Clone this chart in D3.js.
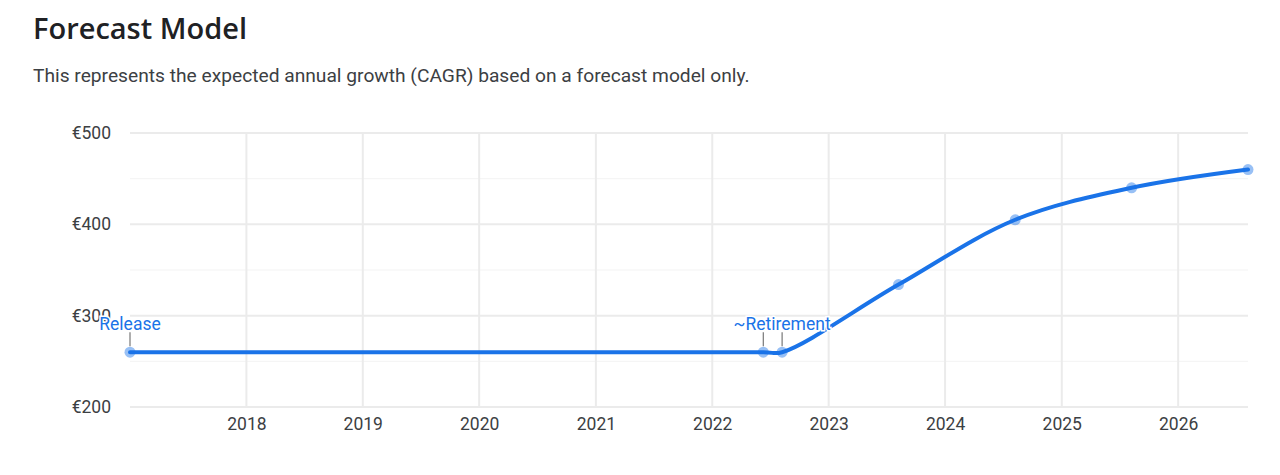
<!DOCTYPE html>
<html>
<head>
<meta charset="utf-8">
<script src="https://cdn.jsdelivr.net/npm/d3@7"></script>
<style>
  body { margin: 0; background: #fff; }
  svg { display: block; }
</style>
</head>
<body>
<svg id="chart" width="1280" height="475"></svg>
<script>
/* global d3: false */

const dates = ['2017-01-01', '2022-06-10', '2022-08-08', '2023-08-08', '2024-08-08', '2025-08-08', '2026-08-08'];
const prices = [260, 260, 260, 334, 405, 440, 460];
const noteDates = ['2017-01-01', '2022-06-10', '2022-08-08'];
const noteLabels = ['Release', '', '~Retirement'];
const yTicks = [200, 300, 400, 500];
const yMinorTicks = [250, 350, 450];
const xTickYears = [2018, 2019, 2020, 2021, 2022, 2023, 2024, 2025, 2026];

const parse = d3.timeParse('%Y-%m-%d');
const points = dates.map((d, i) => ({ date: parse(d), value: prices[i] }));

const svg = d3.select('#chart');
const margin = { left: 130, right: 32, top: 133, bottom: 68 };
const width = 1280;
const height = 475;

svg.append('text')
  .attr('x', 33)
  .attr('y', 39)
  .attr('font-family', 'Open Sans')
  .attr('font-weight', 600)
  .attr('font-size', 29)
  .attr('fill', '#202124')
  .text('Forecast Model');

svg.append('text')
  .attr('x', 33)
  .attr('y', 82)
  .attr('font-family', 'Roboto')
  .attr('font-size', 19.2)
  .attr('fill', '#3c4043')
  .text('This represents the expected annual growth (CAGR) based on a forecast model only.');

const x = d3.scaleTime()
  .domain(d3.extent(points, d => d.date))
  .range([margin.left, width - margin.right]);

const y = d3.scaleLinear()
  .domain([200, 500])
  .range([height - margin.bottom, margin.top]);

// grid
const grid = svg.append('g');
grid.selectAll('.minor')
  .data(yMinorTicks)
  .enter()
  .append('line')
  .attr('x1', margin.left)
  .attr('x2', width - margin.right)
  .attr('y1', d => y(d))
  .attr('y2', d => y(d))
  .attr('stroke', '#f3f3f3')
  .attr('stroke-width', 1);

grid.selectAll('.vert')
  .data(xTickYears)
  .enter()
  .append('line')
  .attr('x1', d => x(new Date(d, 0, 1)))
  .attr('x2', d => x(new Date(d, 0, 1)))
  .attr('y1', margin.top)
  .attr('y2', height - margin.bottom)
  .attr('stroke', '#ebebeb')
  .attr('stroke-width', 2);

grid.selectAll('.major')
  .data(yTicks)
  .enter()
  .append('line')
  .attr('x1', margin.left)
  .attr('x2', width - margin.right)
  .attr('y1', d => y(d))
  .attr('y2', d => y(d))
  .attr('stroke', '#ebebeb')
  .attr('stroke-width', 2);

// axes (text only)
const yAxis = svg.append('g')
  .attr('transform', `translate(${margin.left - 16},0)`)
  .call(d3.axisLeft(y).tickValues(yTicks).tickSize(0).tickFormat(d => `€${d}`));
yAxis.select('.domain').remove();
yAxis.selectAll('text')
  .attr('font-family', 'Roboto')
  .attr('font-size', 17.5)
  .attr('fill', '#3c4043')
  .attr('dy', '0.32em');

const xAxis = svg.append('g')
  .attr('transform', `translate(0,${height - margin.bottom + 8})`)
  .call(d3.axisBottom(x).tickValues(xTickYears.map(d => new Date(d, 0, 1)))
    .tickSize(0).tickFormat(d3.timeFormat('%Y')));
xAxis.select('.domain').remove();
xAxis.selectAll('text')
  .attr('font-family', 'Roboto')
  .attr('font-size', 17.5)
  .attr('fill', '#3c4043');

// line
const line = d3.line()
  .x(d => x(d.date))
  .y(d => y(d.value))
  .curve(d3.curveCatmullRom.alpha(0.5));

svg.append('path')
  .datum(points)
  .attr('d', line)
  .attr('fill', 'none')
  .attr('stroke', '#1a73e8')
  .attr('stroke-width', 4)
  .attr('stroke-linecap', 'round');

svg.selectAll('.dot')
  .data(points)
  .enter()
  .append('circle')
  .attr('cx', d => x(d.date))
  .attr('cy', d => y(d.value))
  .attr('r', 5.5)
  .attr('fill', '#1a73e8')
  .attr('fill-opacity', 0.45);

// annotations
const notes = noteDates.map((d, i) => {
  const date = parse(d);
  const p = points.find(q => +q.date === +date);
  return { date, label: noteLabels[i], value: p.value };
});

const noteG = svg.selectAll('.note')
  .data(notes)
  .enter()
  .append('g');

noteG.append('line')
  .attr('x1', d => x(d.date))
  .attr('x2', d => x(d.date))
  .attr('y1', d => y(d.value) - 6)
  .attr('y2', d => y(d.value) - 20)
  .attr('stroke', '#777')
  .attr('stroke-width', 1.2);

noteG.filter(d => d.label)
  .append('text')
  .attr('x', d => x(d.date))
  .attr('y', d => y(d.value) - 22)
  .attr('text-anchor', 'middle')
  .attr('font-family', 'Roboto')
  .attr('font-size', 17.5)
  .attr('fill', '#1a73e8')
  .attr('stroke', '#fff')
  .attr('stroke-width', 3)
  .attr('paint-order', 'stroke')
  .text(d => d.label);
</script>
</body>
</html>
